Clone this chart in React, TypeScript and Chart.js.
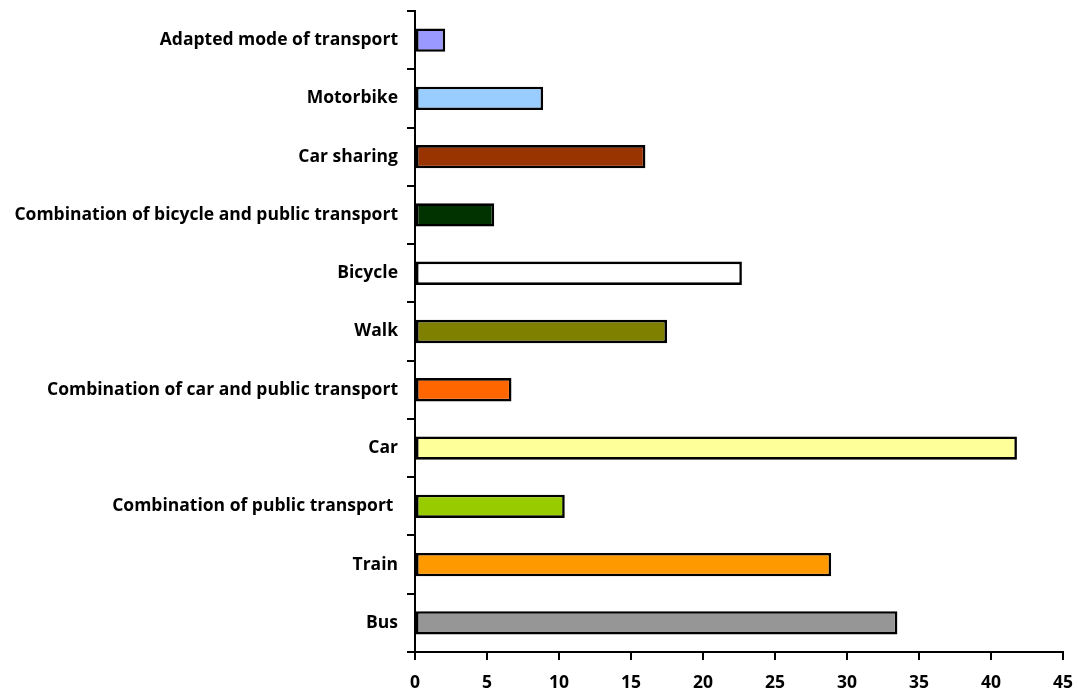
import React, { useEffect, useRef } from "react";
import { Chart, registerables } from "chart.js";

Chart.register(...registerables);

// Transport modes, listed top to bottom
const modes = [
  "Adapted mode of transport",
  "Motorbike",
  "Car sharing",
  "Combination of bicycle and public transport",
  "Bicycle",
  "Walk",
  "Combination of car and public transport",
  "Car",
  "Combination of public transport ",
  "Train",
  "Bus",
];

const shares = [2.1, 8.9, 16.0, 5.5, 22.7, 17.5, 6.7, 41.8, 10.4, 28.9, 33.5];

const barColors = [
  "#9999FF",
  "#99CCFF",
  "#993300",
  "#003300",
  "#FFFFFF",
  "#808000",
  "#FF6600",
  "#FFFF99",
  "#99CC00",
  "#FF9900",
  "#969696",
];

const xMin = 0;
const xMax = 45;
const xStep = 5;

const FONT = "'Open Sans', Lato, sans-serif";

export default function App() {
  const canvasRef = useRef<HTMLCanvasElement | null>(null);

  useEffect(() => {
    document.body.style.margin = "0";
    const canvas = canvasRef.current;
    if (!canvas) return;
    const chart = new Chart(canvas, {
      type: "bar",
      data: {
        labels: modes,
        datasets: [
          {
            data: shares,
            backgroundColor: barColors,
            borderColor: "#000000",
            borderWidth: 2.6,
            borderSkipped: false,
            barPercentage: 0.4,
            categoryPercentage: 1,
          },
        ],
      },
      options: {
        indexAxis: "y",
        animation: false,
        responsive: false,
        maintainAspectRatio: false,
        layout: { padding: { top: 11, right: 15, left: 0, bottom: 0 } },
        plugins: {
          legend: { display: false },
          tooltip: { enabled: false },
        },
        scales: {
          x: {
            type: "linear",
            min: xMin,
            max: xMax,
            ticks: {
              stepSize: xStep,
              color: "#000000",
              padding: 13,
              font: { family: FONT, size: 17.5, weight: "bold" },
            },
            grid: {
              drawOnChartArea: false,
              drawTicks: true,
              tickLength: 8,
              color: "#000000",
              lineWidth: 2,
            },
            border: { display: true, color: "#000000", width: 2 },
            afterFit: (scale: any) => {
              scale.height = 42;
              scale.paddingLeft = 0;
              scale.paddingRight = 0;
            },
          },
          y: {
            type: "category",
            ticks: {
              color: "#000000",
              padding: 9,
              font: { family: FONT, size: 17.5, weight: "bold" },
            },
            grid: {
              offset: true,
              drawOnChartArea: false,
              drawTicks: true,
              tickLength: 8,
              color: "#000000",
              lineWidth: 2,
            },
            border: { display: true, color: "#000000", width: 2 },
            afterFit: (scale: any) => {
              scale.width = 415;
              scale.paddingTop = 0;
              scale.paddingBottom = 0;
            },
          },
        },
      },
    });
    return () => chart.destroy();
  }, []);

  return (
    <div style={{ position: "fixed", left: 0, top: 0, width: 1078, height: 694, background: "#ffffff" }}>
      <canvas ref={canvasRef} width={1078} height={694} style={{ width: 1078, height: 694 }} />
    </div>
  );
}
